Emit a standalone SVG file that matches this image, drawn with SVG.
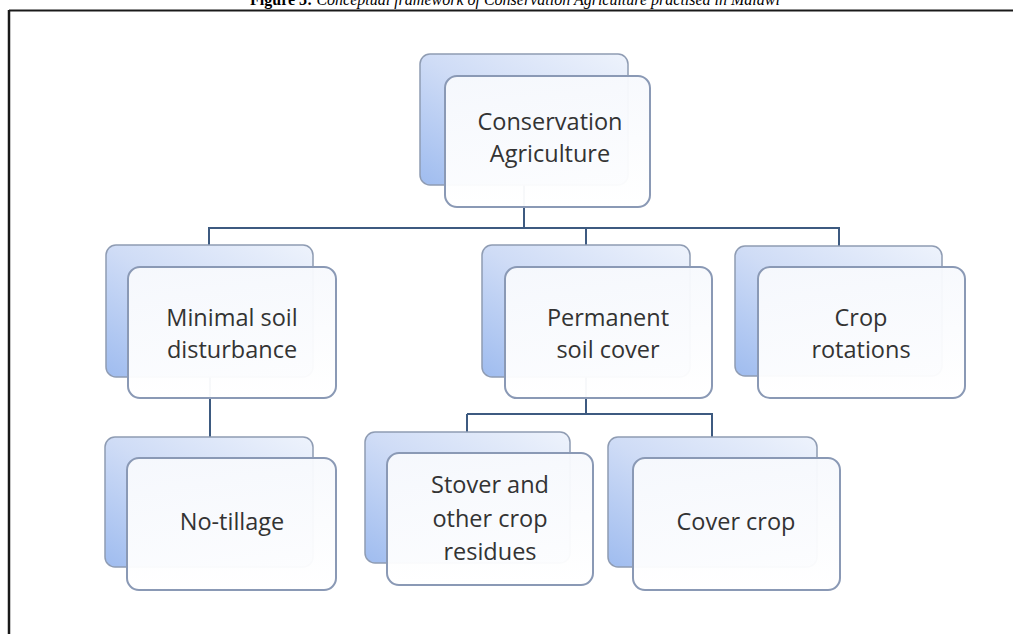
<svg xmlns="http://www.w3.org/2000/svg" width="1013" height="634" viewBox="0 0 1013 634">
<defs>
<linearGradient id="backGrad" x1="1" y1="0" x2="0" y2="1">
<stop offset="0" stop-color="#eef3fc"/>
<stop offset="0.5" stop-color="#cfdcf6"/>
<stop offset="1" stop-color="#9fbcef"/>
</linearGradient>
<linearGradient id="frontGrad" x1="0" y1="0" x2="0" y2="1">
<stop offset="0" stop-color="#f7f9fd"/>
<stop offset="1" stop-color="#ffffff"/>
</linearGradient>
</defs>
<style>
.back{fill:url(#backGrad);stroke:#8f9cb3;stroke-width:1.5}
.front{fill:url(#frontGrad);fill-opacity:0.96;stroke:#8a99b5;stroke-width:2}
.lbl{font-family:"Open Sans","Noto Sans",sans-serif;font-size:23.5px;fill:#333333;text-anchor:middle}
.conn{stroke:#3d5a80;stroke-width:2;fill:none}
.cap{font-family:"Liberation Serif",serif;font-size:16px;fill:#000}
</style>
<rect x="0" y="0" width="1013" height="634" fill="#ffffff"/>
<text class="cap" x="515" y="5" text-anchor="middle"><tspan font-weight="bold">Figure 3:</tspan><tspan font-style="italic"> Conceptual framework of Conservation Agriculture practised in Malawi</tspan></text>
<g id="frame">
<line x1="9" y1="10.5" x2="1013" y2="10.5" stroke="#1a1a1a" stroke-width="2"/>
<line x1="9" y1="10" x2="9" y2="634" stroke="#1a1a1a" stroke-width="2.5"/>
</g>
<g id="connectors">
<path class="conn" d="M524 185 V228 M208 228 H840 M209 228 V245 M586 228 V245 M839 228 V246"/>
<path class="conn" d="M210 377 V437"/>
<path class="conn" d="M586 377 V414 M467 414 H713 M467 414 V432 M712 414 V437"/>
</g>
<g id="node-conservation">
<rect class="back" x="420" y="54" width="208" height="131" rx="10"/>
<rect class="front" x="445" y="76" width="205" height="131" rx="12"/>
<text class="lbl" x="550" y="130">Conservation</text>
<text class="lbl" x="550" y="162">Agriculture</text>
</g>
<g id="node-minimal">
<rect class="back" x="106" y="245" width="207" height="132" rx="10"/>
<rect class="front" x="128" y="267" width="208" height="131" rx="12"/>
<text class="lbl" x="232" y="326">Minimal soil</text>
<text class="lbl" x="232" y="358">disturbance</text>
</g>
<g id="node-permanent">
<rect class="back" x="482" y="245" width="208" height="132" rx="10"/>
<rect class="front" x="505" y="267" width="207" height="131" rx="12"/>
<text class="lbl" x="608" y="326">Permanent</text>
<text class="lbl" x="608" y="358">soil cover</text>
</g>
<g id="node-crop">
<rect class="back" x="735" y="246" width="207" height="130" rx="10"/>
<rect class="front" x="758" y="267" width="207" height="131" rx="12"/>
<text class="lbl" x="861" y="326">Crop</text>
<text class="lbl" x="861" y="358">rotations</text>
</g>
<g id="node-notillage">
<rect class="back" x="105" y="437" width="208" height="130" rx="10"/>
<rect class="front" x="127" y="458" width="209" height="132" rx="12"/>
<text class="lbl" x="232" y="530">No-tillage</text>
</g>
<g id="node-stover">
<rect class="back" x="365" y="432" width="205" height="131" rx="10"/>
<rect class="front" x="387" y="453" width="206" height="132" rx="12"/>
<text class="lbl" x="490" y="493">Stover and</text>
<text class="lbl" x="490" y="527">other crop</text>
<text class="lbl" x="490" y="560">residues</text>
</g>
<g id="node-cover">
<rect class="back" x="608" y="437" width="209" height="130" rx="10"/>
<rect class="front" x="633" y="458" width="207" height="132" rx="12"/>
<text class="lbl" x="736" y="530">Cover crop</text>
</g>
</svg>
